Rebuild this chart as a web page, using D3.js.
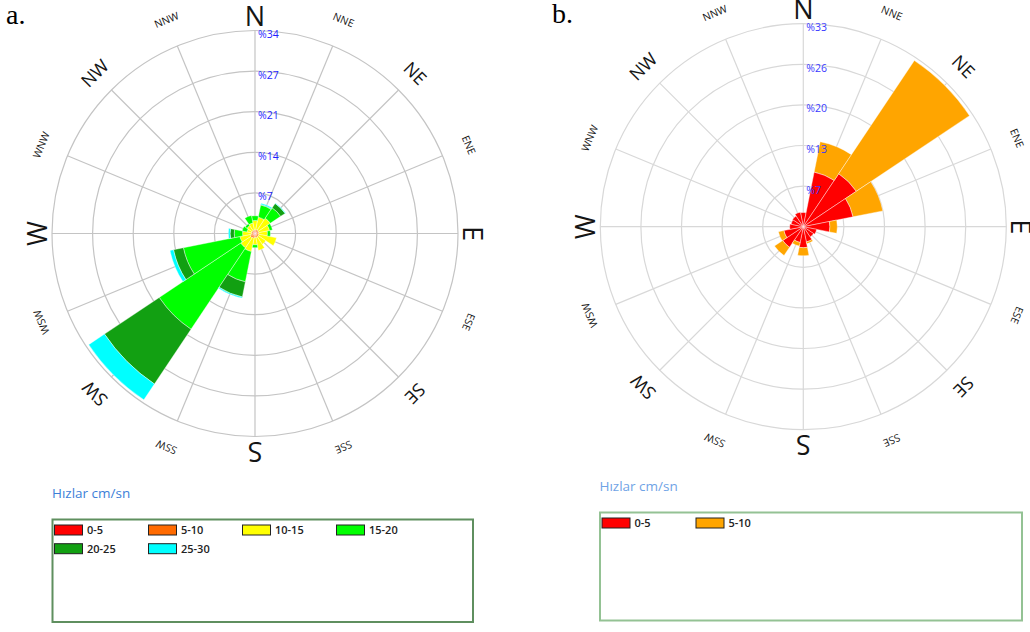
<!DOCTYPE html>
<html>
<head>
<meta charset="utf-8">
<script src="https://cdn.jsdelivr.net/npm/d3@7"></script>
<style>
  html, body { margin: 0; padding: 0; background: #fff; }
  svg { display: block; }
</style>
</head>
<body>
<svg id="chart" width="1030" height="632"></svg>
<script>
// Compass sectors, clockwise from north
const directions = ["N","NNE","NE","ENE","E","ESE","SE","SSE","S","SSW","SW","WSW","W","WNW","NW","NNW"];

// Panel a: frequency (%) per direction for each speed class (cm/sn)
const speedClassesA = ["0-5","5-10","10-15","15-20","20-25","25-30"];
const a_0_5   = [0.3,0.3,0.3,0.3,0.3,0.3,0.3,0.3,0.3,0.3,0.3,0.3,0.3,0.3,0.3,0.3];
const a_5_10  = [0.3,0.4,0.4,0.4,0.3,0.4,0.4,0.4,0.4,0.5,0.6,0.5,0.3,0.3,0.3,0.3];
const a_10_15 = [1.6,2.1,2.4,1.8,1.5,3.0,1.5,2.2,1.2,2.3,2.0,1.8,1.5,0.8,1.0,1.2];
const a_15_20 = [0.8,2.1,2.1,0.5,0.5,0.0,0.0,0.0,0.5,5.2,16.5,9.7,1.4,0.8,0.4,1.3];
const a_20_25 = [0.0,0.1,0.9,0.0,0.0,0.0,0.0,0.0,0.0,2.6,11.1,1.7,0.7,0.0,0.0,0.0];
const a_25_30 = [0.0,0.2,0.1,0.0,0.0,0.0,0.0,0.0,0.0,0.2,3.2,0.6,0.3,0.0,0.0,0.0];
const ticksA = [6.84, 13.68, 20.52, 27.36, 34.2];
const tickLabelsA = ["%7","%14","%21","%27","%34"];

// Panel b: frequency (%) per direction for each speed class (cm/sn)
const speedClassesB = ["0-5","5-10"];
const b_0_5  = [2.3,9.0,10.3,8.2,4.3,2.2,2.0,2.5,3.4,2.6,4.0,3.2,2.2,2.0,2.1,2.4];
const b_5_10 = [0.0,5.0,22.0,4.9,1.2,0.0,0.0,0.3,1.3,0.6,1.6,0.9,0.0,0.0,0.0,0.0];
const ticksB = [6.56, 13.12, 19.68, 26.24, 32.8];
const tickLabelsB = ["%7","%13","%20","%26","%33"];

const legendTitle = "Hızlar cm/sn";

const colorsA = ["#ff0000","#ff6a00","#ffff00","#00ff00","#12a012","#00ffff"];
const colorsB = ["#ff0000","#ffa500"];

const svg = d3.select("#chart");
const FONT = "'Open Sans', 'Noto Sans', sans-serif";

function drawRose(opts) {
  const { cx, cy, R, max, series, classes, colors, ticks, tickLabels, gridColor, tickColor } = opts;
  const g = svg.append("g").attr("transform", `translate(${cx},${cy})`);
  const r = d3.scaleLinear().domain([0, max]).range([0, R]);
  const angle = d3.scaleLinear().domain([0, directions.length]).range([0, 2 * Math.PI]);
  const half = angle(0.5);

  // concentric rings
  g.append("g").selectAll("circle")
    .data(ticks)
    .join("circle")
    .attr("r", d => r(d))
    .attr("fill", "none")
    .attr("stroke", gridColor)
    .attr("stroke-width", 1.2);

  // radial spokes
  g.append("g").selectAll("line")
    .data(directions)
    .join("line")
    .attr("x1", 0).attr("y1", 0)
    .attr("x2", (d, i) => R * Math.sin(angle(i)))
    .attr("y2", (d, i) => -R * Math.cos(angle(i)))
    .attr("stroke", gridColor)
    .attr("stroke-width", 1.2);

  // stacked wedges, one layer per speed class
  const rows = directions.map((dir, i) => {
    const o = { dir, i };
    classes.forEach((c, k) => { o[c] = series[k][i]; });
    return o;
  });
  const stacked = d3.stack().keys(classes)(rows);
  const arc = d3.arc()
    .innerRadius(d => r(d[0]))
    .outerRadius(d => r(d[1]))
    .startAngle(d => angle(d.data.i) - half)
    .endAngle(d => angle(d.data.i) + half);

  g.append("g").selectAll("g")
    .data(stacked)
    .join("g")
    .attr("fill", (d, k) => colors[k])
    .selectAll("path")
    .data(d => d.filter(s => s[1] - s[0] > 0))
    .join("path")
    .attr("d", arc)
    .attr("stroke", "#ffffff")
    .attr("stroke-width", 0.4);

  // ring value labels along the north spoke
  g.append("g").selectAll("text")
    .data(ticks)
    .join("text")
    .attr("x", 3)
    .attr("y", d => -r(d) + 7.5)
    .attr("fill", tickColor)
    .attr("font-family", FONT)
    .attr("font-size", 10.5)
    .text((d, i) => tickLabels[i]);

  // compass labels, rotated tangentially
  const level = i => (i % 4 === 0 ? 0 : (i % 2 === 0 ? 1 : 2));
  const sizes = [27, 18, 10.5];
  const radii = [208, 220, 227.5];
  g.append("g").selectAll("text")
    .data(directions)
    .join("text")
    .attr("transform", (d, i) => `rotate(${angle(i) * 180 / Math.PI}) translate(0,${-radii[level(i)]})`)
    .attr("text-anchor", "middle")
    .attr("fill", "#151515")
    .attr("font-family", FONT)
    .attr("font-size", (d, i) => sizes[level(i)])
    .text(d => d);
}

function drawLegend(opts) {
  const { titleX, titleY, titleColor, bx, by, bw, bh, border, classes, colors } = opts;
  svg.append("text")
    .attr("x", titleX).attr("y", titleY)
    .attr("fill", titleColor)
    .attr("font-family", FONT)
    .attr("font-size", 13.5)
    .text(legendTitle);

  svg.append("rect")
    .attr("x", bx).attr("y", by)
    .attr("width", bw).attr("height", bh)
    .attr("fill", "#fff")
    .attr("stroke", border)
    .attr("stroke-width", 2);

  const item = svg.append("g").selectAll("g")
    .data(classes)
    .join("g")
    .attr("transform", (d, i) => `translate(${bx + 1.5 + (i % 4) * 94},${by + 5 + Math.floor(i / 4) * 18.7})`);
  item.append("rect")
    .attr("x", 0.5).attr("y", 0.5)
    .attr("width", 28).attr("height", 10)
    .attr("fill", (d, i) => colors[i])
    .attr("stroke", "#222")
    .attr("stroke-width", 1);
  item.append("text")
    .attr("x", 33).attr("y", 9.5)
    .attr("fill", "#222")
    .attr("font-family", FONT)
    .attr("font-size", 11)
    .attr("font-weight", 600)
    .text(d => d);
}

// Panel a
drawRose({
  cx: 255, cy: 233.5, R: 203, max: ticksA[ticksA.length - 1],
  series: [a_0_5, a_5_10, a_10_15, a_15_20, a_20_25, a_25_30],
  classes: speedClassesA, colors: colorsA,
  ticks: ticksA, tickLabels: tickLabelsA,
  gridColor: "#c4c4c4", tickColor: "#1f1fff"
});
drawLegend({
  titleX: 52, titleY: 497.5, titleColor: "#3d7fd8",
  bx: 52.5, by: 519.5, bw: 420.5, bh: 102.5, border: "#5f8f5f",
  classes: speedClassesA, colors: colorsA
});

// Panel b
drawRose({
  cx: 803.3, cy: 226.7, R: 203, max: ticksB[ticksB.length - 1],
  series: [b_0_5, b_5_10],
  classes: speedClassesB, colors: colorsB,
  ticks: ticksB, tickLabels: tickLabelsB,
  gridColor: "#d8d8d8", tickColor: "#3a3aff"
});
drawLegend({
  titleX: 599.5, titleY: 490.5, titleColor: "#6fa3e6",
  bx: 600, by: 512.5, bw: 422, bh: 108, border: "#94c294",
  classes: speedClassesB, colors: colorsB
});

// panel letters
svg.append("text").attr("x", 6).attr("y", 24)
  .attr("font-family", "'Liberation Serif', 'Times New Roman', serif")
  .attr("font-size", 28).attr("fill", "#000").text("a.");
svg.append("text").attr("x", 552).attr("y", 23)
  .attr("font-family", "'Liberation Serif', 'Times New Roman', serif")
  .attr("font-size", 28).attr("fill", "#000").text("b.");
</script>
</body>
</html>
